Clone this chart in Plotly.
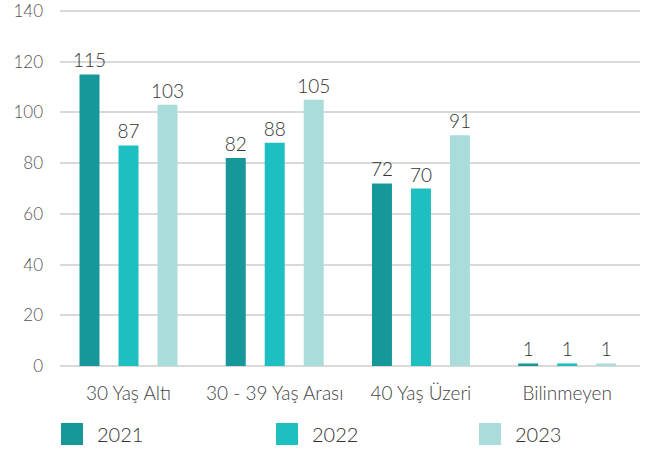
import plotly.graph_objects as go

# Age-group headcounts per year
categories = ["30 Yaş Altı", "30 - 39 Yaş Arası", "40 Yaş Üzeri", "Bilinmeyen"]
years = ["2021", "2022", "2023"]
values_2021 = [115, 82, 72, 1]
values_2022 = [87, 88, 70, 1]
values_2023 = [103, 105, 91, 1]
y_ticks = [0, 20, 40, 60, 80, 100, 120, 140]

colors = ["#16979a", "#1ebfc0", "#a9dcdb"]
series = [values_2021, values_2022, values_2023]

FONT = "Lato"
W = 300  # light weight

fig = go.Figure()
for name, vals, col in zip(years, series, colors):
    fig.add_trace(go.Bar(
        x=categories, y=vals, name=name,
        marker=dict(color=col, line=dict(width=0)),
        text=[str(v) for v in vals],
        textposition="outside",
        constraintext="none",
        textfont=dict(family=FONT, size=19, color="#333333", weight=W),
        cliponaxis=False,
        showlegend=False,
    ))

# Custom legend row with large square swatches
legend_x = [0.0017, 0.3724, 0.7224]
sq_w = 0.038
y_mid = -(434 - 366) / 356
y_half = 11 / 356
for name, col, x0 in zip(years, colors, legend_x):
    fig.add_shape(type="rect", xref="paper", yref="paper",
                  x0=x0, x1=x0 + sq_w, y0=y_mid - y_half, y1=y_mid + y_half,
                  fillcolor=col, line=dict(width=0))
    fig.add_annotation(xref="paper", yref="paper", x=x0 + sq_w + 0.02, y=y_mid,
                       text=name, showarrow=False, xanchor="left", yanchor="middle",
                       font=dict(family=FONT, size=20, color="#333333", weight=W))

fig.update_layout(
    width=654, height=452,
    margin=dict(l=60, r=14, t=10, b=86),
    paper_bgcolor="white", plot_bgcolor="white",
    barmode="group", bargap=0.2, bargroupgap=0.487,
    font=dict(family=FONT, color="#444444"),
    xaxis=dict(showgrid=False, showline=False, ticks="", automargin=False,
               range=[-0.4685, 3.498],
               tickfont=dict(family=FONT, size=19, color="#444444", weight=W),
               ticklabelstandoff=14),
    yaxis=dict(range=[0, 140.4], tickvals=y_ticks, showline=False, ticks="",
               automargin=False, ticklabeloverflow="allow",
               gridcolor="#d9d9d9", gridwidth=2,
               zeroline=True, zerolinecolor="#d9d9d9", zerolinewidth=2,
               tickfont=dict(family=FONT, size=17, color="#555555", weight=W),
               ticklabelstandoff=16),
)

fig.write_html("out.html")
